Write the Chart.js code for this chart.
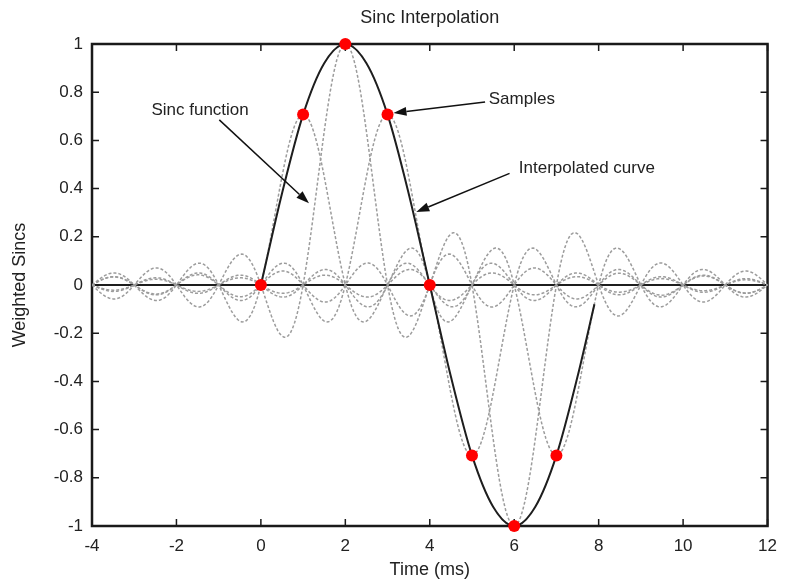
<!DOCTYPE html>
<html lang="en">
<head>
    <meta charset="UTF-8">
    <title>Sinc Interpolation</title>
    <style>
        body {
            margin: 0;
            background: #fff;
        }
        canvas {
            display: block;
        }
    </style>
    <script src="https://cdn.jsdelivr.net/npm/chart.js"></script>
</head>
<body>
    <canvas id="sincChart" width="787" height="581"></canvas>

    <script>
        // Samples (time in ms, amplitude)
        const sampleTimes = [0, 1, 2, 3, 4, 5, 6, 7];
        const sampleValues = [0, 0.707, 1, 0.707, 0, -0.707, -1, -0.707];

        // Interpolated curve, read every half millisecond
        const curveTimes = [0, 0.5, 1, 1.5, 2, 2.5, 3, 3.5, 4, 4.5, 5, 5.5, 6, 6.5, 7, 7.5, 7.9];
        const curveValues = [0, 0.38, 0.707, 0.92, 1, 0.92, 0.707, 0.38, 0, -0.38, -0.707, -0.92, -1, -0.92, -0.707, -0.38, -0.08];

        // Axis ticks
        const xTicks = [-4, -2, 0, 2, 4, 6, 8, 10, 12];
        const yTicks = [-1, -0.8, -0.6, -0.4, -0.2, 0, 0.2, 0.4, 0.6, 0.8, 1];

        // Time span of the dashed sincs
        const sincRange = [-4, 12];
        const STEP = 0.05;

        // Labels with arrows: text position, arrow tail, arrow head
        const noteTexts = ['Sinc function', 'Samples', 'Interpolated curve'];
        const notePos = [[-1.44, 0.723], [6.18, 0.772], [7.72, 0.485]];
        const noteTails = [[-0.985, 0.685], [5.31, 0.759], [5.89, 0.463]];
        const noteHeads = [[1.14, 0.339], [3.14, 0.714], [3.68, 0.303]];

        function sinc(u) {
            if (u === 0) return 1;
            const a = Math.PI * u;
            return Math.sin(a) / a;
        }

        // one weighted sinc per non-zero sample
        function weightedSinc(n) {
            const pts = [];
            const count = Math.round((sincRange[1] - sincRange[0]) / STEP);
            for (let i = 0; i <= count; i++) {
                const t = sincRange[0] + i * STEP;
                pts.push({ x: t, y: sampleValues[n] * sinc(t - sampleTimes[n]) });
            }
            return pts;
        }

        const FONT = 'Liberation Sans, Arial, sans-serif';
        const TEXT = '#222';

        const datasets = [
            {
                label: 'Samples',
                data: sampleTimes.map((t, i) => ({ x: t, y: sampleValues[i] })),
                backgroundColor: '#ff0000',
                borderWidth: 0,
                pointRadius: 6,
                showLine: false,
                clip: false
            },
            {
                label: 'Interpolated curve',
                data: curveTimes.map((t, i) => ({ x: t, y: curveValues[i] })),
                borderColor: '#1e1e1e',
                borderWidth: 2,
                pointRadius: 0,
                showLine: true,
                cubicInterpolationMode: 'monotone'
            }
        ];
        sampleValues.forEach((v, n) => {
            if (v === 0) return;
            datasets.push({
                label: 'Sinc ' + n,
                data: weightedSinc(n),
                borderColor: '#9c9c9c',
                borderWidth: 1.5,
                borderDash: [3, 2],
                pointRadius: 0,
                showLine: true,
                tension: 0
            });
        });

        function drawArrow(ctx, x1, y1, x2, y2) {
            const ang = Math.atan2(y2 - y1, x2 - x1);
            const len = 13, half = 4.5;
            const bx = x2 - len * Math.cos(ang), by = y2 - len * Math.sin(ang);
            ctx.beginPath();
            ctx.moveTo(x1, y1);
            ctx.lineTo(bx, by);
            ctx.stroke();
            ctx.beginPath();
            ctx.moveTo(x2, y2);
            ctx.lineTo(bx + half * Math.sin(ang), by - half * Math.cos(ang));
            ctx.lineTo(bx - half * Math.sin(ang), by + half * Math.cos(ang));
            ctx.closePath();
            ctx.fill();
        }

        // frame with inward ticks and zero line under the curves, then arrows and labels
        const decorations = {
            id: 'decorations',
            beforeDatasetsDraw(chart) {
                const { ctx, chartArea: a, scales: { x, y } } = chart;
                ctx.save();
                ctx.strokeStyle = '#1e1e1e';
                ctx.lineWidth = 2;
                const y0 = y.getPixelForValue(0);
                ctx.beginPath();
                ctx.moveTo(a.left, y0);
                ctx.lineTo(a.right, y0);
                ctx.stroke();

                ctx.strokeStyle = '#1a1a1a';
                ctx.lineWidth = 1.5;
                ctx.beginPath();
                xTicks.forEach(v => {
                    const px = x.getPixelForValue(v);
                    ctx.moveTo(px, a.bottom); ctx.lineTo(px, a.bottom - 7);
                    ctx.moveTo(px, a.top); ctx.lineTo(px, a.top + 7);
                });
                yTicks.forEach(v => {
                    const py = y.getPixelForValue(v);
                    ctx.moveTo(a.left, py); ctx.lineTo(a.left + 7, py);
                    ctx.moveTo(a.right, py); ctx.lineTo(a.right - 7, py);
                });
                ctx.stroke();
                ctx.lineWidth = 2.5;
                ctx.strokeRect(a.left, a.top, a.right - a.left, a.bottom - a.top);
                ctx.restore();
            },
            afterDatasetsDraw(chart) {
                const { ctx, scales: { x, y } } = chart;
                ctx.save();
                ctx.strokeStyle = '#111';
                ctx.fillStyle = '#111';
                ctx.lineWidth = 1.5;
                noteTexts.forEach((txt, i) => {
                    drawArrow(ctx,
                        x.getPixelForValue(noteTails[i][0]), y.getPixelForValue(noteTails[i][1]),
                        x.getPixelForValue(noteHeads[i][0]), y.getPixelForValue(noteHeads[i][1]));
                });
                ctx.fillStyle = TEXT;
                ctx.font = '17px ' + FONT;
                ctx.textAlign = 'center';
                ctx.textBaseline = 'middle';
                noteTexts.forEach((txt, i) => {
                    ctx.fillText(txt, x.getPixelForValue(notePos[i][0]), y.getPixelForValue(notePos[i][1]));
                });
                ctx.restore();
            }
        };

        const ctx = document.getElementById('sincChart').getContext('2d');
        new Chart(ctx, {
            type: 'scatter',
            data: { datasets },
            options: {
                responsive: false,
                animation: false,
                devicePixelRatio: 1,
                layout: { padding: { left: 0, right: 16, top: 0, bottom: 0 } },
                plugins: {
                    legend: { display: false },
                    tooltip: { enabled: false },
                    title: {
                        display: true,
                        text: 'Sinc Interpolation',
                        fullSize: false,
                        color: TEXT,
                        font: { family: FONT, size: 18, weight: 'normal' },
                        padding: { top: 7, bottom: 15.4 }
                    }
                },
                scales: {
                    x: {
                        type: 'linear',
                        min: -4,
                        max: 12,
                        afterBuildTicks: s => { s.ticks = xTicks.map(v => ({ value: v })); },
                        afterFit: s => { s.height = 55; },
                        grid: { display: false, drawTicks: false },
                        border: { display: false },
                        ticks: {
                            color: TEXT,
                            font: { family: FONT, size: 17 },
                            padding: 10,
                            maxRotation: 0,
                            callback: v => String(v)
                        },
                        title: {
                            display: true,
                            text: 'Time (ms)',
                            color: TEXT,
                            font: { family: FONT, size: 18 },
                            padding: { top: 0, bottom: 0 }
                        }
                    },
                    y: {
                        type: 'linear',
                        min: -1,
                        max: 1,
                        afterBuildTicks: s => { s.ticks = yTicks.map(v => ({ value: v })); },
                        afterFit: s => { s.width = 92; },
                        grid: { display: false, drawTicks: false },
                        border: { display: false },
                        ticks: {
                            color: TEXT,
                            font: { family: FONT, size: 17 },
                            padding: 9,
                            callback: v => String(+v.toFixed(1))
                        },
                        title: {
                            display: true,
                            text: 'Weighted Sincs',
                            color: TEXT,
                            font: { family: FONT, size: 18 },
                            padding: { top: 9, bottom: 0 }
                        }
                    }
                }
            },
            plugins: [decorations]
        });
    </script>
</body>
</html>
